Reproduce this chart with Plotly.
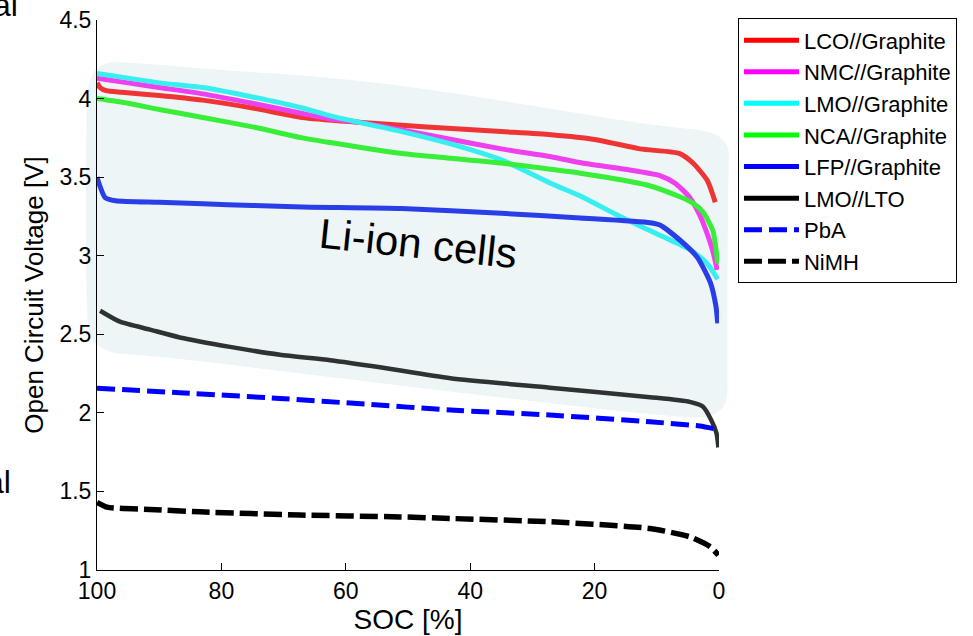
import plotly.graph_objects as go

# ---------------- data (SOC in %, OCV in V) ----------------
lco_soc = [100, 99.5, 98.5, 96, 90, 83, 75, 67, 58, 51, 43, 35, 27, 20, 12.7, 6.3, 4.2, 1.9, 0.6]
lco_v = [4.10, 4.07, 4.05, 4.04, 4.02, 3.99, 3.94, 3.88, 3.85, 3.83, 3.81, 3.79, 3.77, 3.74, 3.68, 3.65, 3.59, 3.48, 3.34]

nmc_soc = [100, 95, 90, 83, 75, 67, 62.5, 58, 51, 43, 35, 27, 22, 15, 9.5, 7, 4.7, 3, 1.9, 1, 0.3]
nmc_v = [4.13, 4.10, 4.07, 4.03, 3.97, 3.905, 3.87, 3.85, 3.80, 3.74, 3.68, 3.63, 3.59, 3.55, 3.51, 3.46, 3.37, 3.25, 3.14, 3.03, 2.91]

lmo_soc = [100, 95, 90, 83, 75, 67, 62.5, 58, 51, 43, 35, 27, 22.3, 15.9, 9.5, 4.7, 1.9, 0.2]
lmo_v = [4.16, 4.13, 4.10, 4.07, 4.01, 3.94, 3.89, 3.85, 3.79, 3.71, 3.61, 3.46, 3.38, 3.25, 3.13, 3.04, 2.95, 2.85]

nca_soc = [100, 95, 90, 83, 75, 67, 62.5, 51, 43, 35, 27, 22.3, 11.6, 6.3, 4.2, 2.6, 1.0, 0.2]
nca_v = [4.00, 3.97, 3.93, 3.88, 3.82, 3.75, 3.72, 3.65, 3.62, 3.59, 3.55, 3.525, 3.45, 3.375, 3.335, 3.28, 3.16, 2.95]

lfp_soc = [100, 99.5, 98.7, 97, 90, 83, 75, 67, 51, 35, 22.3, 11.1, 9.5, 6.3, 3.5, 1.4, 0.5, 0.2]
lfp_v = [3.50, 3.44, 3.37, 3.35, 3.34, 3.33, 3.32, 3.31, 3.30, 3.27, 3.24, 3.21, 3.195, 3.10, 2.99, 2.83, 2.68, 2.57]

lto_soc = [99.5, 96.3, 91.5, 86.7, 78.6, 70.6, 62.5, 54.5, 43.2, 27.2, 11.1, 4.7, 2.6, 1.2, 0.4, 0.1]
lto_v = [2.65, 2.58, 2.53, 2.48, 2.42, 2.37, 2.335, 2.29, 2.22, 2.16, 2.10, 2.07, 2.04, 1.95, 1.87, 1.78]

pba_soc = [100, 86.7, 70.6, 57, 43.2, 27.2, 11.1, 3.1, 0.3]
pba_v = [2.157, 2.128, 2.092, 2.056, 2.018, 1.986, 1.943, 1.916, 1.895]

nimh_soc = [100, 98.4, 91.5, 83.4, 67.4, 51.3, 43.2, 27.2, 11.1, 4.7, 1.4, 0.1]
nimh_v = [1.43, 1.40, 1.385, 1.37, 1.35, 1.338, 1.328, 1.307, 1.264, 1.211, 1.147, 1.094]

series_names = ["LCO//Graphite", "NMC//Graphite", "LMO//Graphite", "NCA//Graphite",
                "LFP//Graphite", "LMO//LTO", "PbA", "NiMH"]

x_ticks = [0, 20, 40, 60, 80, 100]
y_ticks = [1, 1.5, 2, 2.5, 3, 3.5, 4, 4.5]
y_tick_labels = ["1", "1.5", "2", "2.5", "3", "3.5", "4", "4.5"]

# outline of the shaded "Li-ion cells" region, in (SOC, V) units (control polygon)
region_outline = [
    (91.48, 4.220), (101.45, 4.245), (101.77, 3.736), (101.77, 2.718), (101.13, 2.387),
    (89.87, 2.361), (54.50, 2.189), (11.09, 1.986), (-1.45, 1.954), (-1.29, 2.336),
    (-1.45, 3.482), (-1.77, 3.781), (9.49, 3.825), (19.13, 3.883), (43.25, 4.042),
    (62.54, 4.137), (80.23, 4.182),
]

# ---------------- styles ----------------
line_colors = ["#ee3434", "#ee40ee", "#38eeee", "#38ee38", "#2a3ee8", "#2e3232", "#0000ff", "#000000"]
legend_colors = ["#ff0000", "#ff00ff", "#00ffff", "#00ff00", "#0000ff", "#000000", "#0000ff", "#000000"]
dashes = ["solid"] * 6 + ["18px,7px", "18px,6px"]
widths = [5, 5, 5, 5, 5, 4.5, 5, 5.5]

FONT = "Arial, Liberation Sans, Helvetica, sans-serif"

X_RANGE = [100, 0]
Y_RANGE = [1, 4.5]

fig = go.Figure()

data = [(lco_soc, lco_v), (nmc_soc, nmc_v), (lmo_soc, lmo_v), (nca_soc, nca_v),
        (lfp_soc, lfp_v), (lto_soc, lto_v), (pba_soc, pba_v), (nimh_soc, nimh_v)]

for (xs, ys), name, col, d, w in zip(data, series_names, line_colors, dashes, widths):
    fig.add_trace(go.Scatter(x=xs, y=ys, mode="lines", name=name, showlegend=False,
                             line=dict(color=col, width=w, dash=d, shape="spline", smoothing=0.6),
                             hoverinfo="skip"))

# legend entries (pure colours as in the reference legend)
for name, col, d in zip(series_names, legend_colors, dashes):
    fig.add_trace(go.Scatter(x=[None], y=[None], mode="lines", name=name,
                             line=dict(color=col, width=5, dash=d)))


def to_paper(s, v):
    px = (X_RANGE[0] - s) / (X_RANGE[0] - X_RANGE[1])
    py = (v - Y_RANGE[0]) / (Y_RANGE[1] - Y_RANGE[0])
    return px, py


pts = [to_paper(s, v) for s, v in region_outline]
n = len(pts)
mids = [((pts[i][0] + pts[(i + 1) % n][0]) / 2, (pts[i][1] + pts[(i + 1) % n][1]) / 2) for i in range(n)]
path = "M{:.5f},{:.5f}".format(*mids[0])
for i in range(1, n + 1):
    c = pts[i % n]
    m = mids[i % n]
    path += " Q{:.5f},{:.5f} {:.5f},{:.5f}".format(c[0], c[1], m[0], m[1])
path += " Z"

fig.add_shape(type="path", path=path, xref="paper", yref="paper", layer="below",
              fillcolor="#edf5f7", line=dict(width=0))

fig.add_annotation(x=48.4, y=3.08, xref="x", yref="y", text="Li-ion cells", showarrow=False,
                   textangle=6, font=dict(family=FONT, size=42, color="#000000"))

# cropped text fragments at the left edge of the reference picture
fig.add_annotation(x=-0.1238, y=1.027, xref="paper", yref="paper", text="al", showarrow=False,
                   xanchor="right", yanchor="middle", font=dict(family=FONT, size=32, color="#000000"))
fig.add_annotation(x=-0.135, y=0.16, xref="paper", yref="paper", text="al", showarrow=False,
                   xanchor="right", yanchor="middle", font=dict(family=FONT, size=32, color="#000000"))

fig.update_layout(
    width=973, height=636,
    margin=dict(l=97, r=254, t=20, b=66, autoexpand=False),
    paper_bgcolor="white", plot_bgcolor="white",
    font=dict(family=FONT, size=22, color="#000000"),
    showlegend=True,
    legend=dict(x=1.0305, y=1.003, xanchor="left", yanchor="top",
                bordercolor="#000000", borderwidth=1, bgcolor="white",
                font=dict(family=FONT, size=22, color="#000000"),
                itemwidth=55, tracegroupgap=0),
)

fig.update_xaxes(range=X_RANGE, tickvals=x_ticks, ticktext=[str(t) for t in x_ticks],
                 showline=True, linecolor="#000000", linewidth=1, mirror=False,
                 ticks="inside", ticklen=7, tickcolor="#000000", showgrid=False, zeroline=False,
                 tickfont=dict(family=FONT, size=23),
                 title=dict(text="SOC [%]", font=dict(family=FONT, size=28), standoff=2))
fig.update_yaxes(range=Y_RANGE, tickvals=y_ticks, ticktext=y_tick_labels,
                 showline=True, linecolor="#000000", linewidth=1, mirror=False,
                 ticks="inside", ticklen=7, tickcolor="#000000", showgrid=False, zeroline=False,
                 tickfont=dict(family=FONT, size=23),
                 title=dict(text="Open Circuit Voltage [V]", font=dict(family=FONT, size=26), standoff=8))

fig.write_html("out.html")
